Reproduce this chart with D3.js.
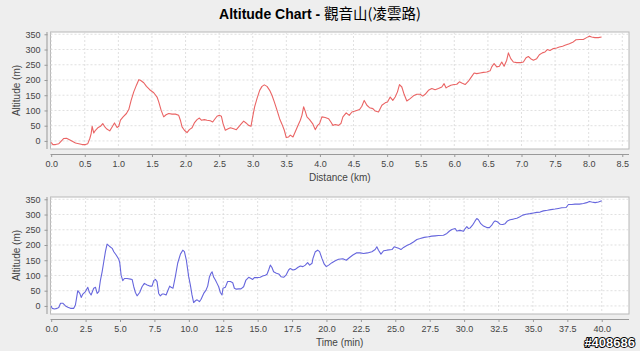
<!DOCTYPE html>
<html><head><meta charset="utf-8">
<script src="https://cdn.jsdelivr.net/npm/d3@7"></script>
<style>
html,body{margin:0;padding:0;background:#eeeeee;}
svg{display:block;}
text{font-family:"Liberation Sans",Arial,sans-serif;}
</style></head>
<body>
<script>
// ---- data ----
const titleText = "Altitude Chart - ";
const titleCjk = "觀音山(凌雲路)";
const xLabelDist = "Distance (km)";
const xLabelTime = "Time (min)";
const yLabel = "Altitude (m)";
const watermark = "#408686";

const distTicks = [0,0.5,1,1.5,2,2.5,3,3.5,4,4.5,5,5.5,6,6.5,7,7.5,8,8.5];
const timeTicks = [0,2.5,5,7.5,10,12.5,15,17.5,20,22.5,25,27.5,30,32.5,35,37.5,40];
const altTicks = [0,50,100,150,200,250,300,350];

const distKm = [0.000,0.025,0.064,0.114,0.139,0.188,0.228,0.287,0.362,0.411,0.461,0.511,0.545,0.575,0.595,0.610,0.634,0.659,0.694,0.734,0.768,0.793,0.823,0.872,0.907,0.942,0.981,1.006,1.031,1.071,1.120,1.155,1.190,1.229,1.269,1.304,1.328,1.378,1.418,1.467,1.527,1.576,1.601,1.636,1.675,1.710,1.750,1.799,1.849,1.898,1.923,1.948,1.983,2.022,2.057,2.097,2.131,2.171,2.206,2.235,2.280,2.320,2.369,2.404,2.434,2.468,2.503,2.533,2.558,2.592,2.627,2.667,2.716,2.756,2.791,2.825,2.865,2.900,2.939,2.974,2.999,3.028,3.063,3.103,3.138,3.172,3.212,3.252,3.286,3.321,3.361,3.400,3.435,3.470,3.499,3.534,3.559,3.599,3.633,3.668,3.708,3.732,3.757,3.782,3.807,3.846,3.896,3.930,3.965,3.995,4.029,4.079,4.128,4.163,4.193,4.228,4.277,4.312,4.342,4.391,4.436,4.476,4.525,4.590,4.624,4.659,4.699,4.738,4.788,4.823,4.872,4.922,4.971,5.006,5.046,5.085,5.120,5.154,5.184,5.219,5.253,5.293,5.343,5.392,5.442,5.491,5.531,5.566,5.615,5.665,5.714,5.764,5.814,5.848,5.878,5.913,5.948,5.997,6.037,6.076,6.111,6.161,6.210,6.260,6.295,6.334,6.384,6.433,6.483,6.533,6.557,6.592,6.632,6.671,6.706,6.741,6.780,6.805,6.840,6.879,6.929,6.988,7.028,7.068,7.102,7.137,7.177,7.226,7.266,7.310,7.350,7.385,7.424,7.474,7.523,7.563,7.612,7.647,7.712,7.771,7.811,7.870,7.920,7.969,8.009,8.044,8.093,8.143,8.192];
const altByDist = [-5,-12,-12,-9,-3,8,9,2,-7,-9,-12,-12,-9,8,24,48,26,35,43,48,57,48,40,33,46,59,44,48,68,79,90,103,133,161,183,201,199,191,179,168,158,144,128,101,79,86,90,88,88,84,68,46,35,27,37,43,59,70,75,68,70,68,66,62,71,81,84,81,57,35,39,43,40,37,46,55,65,59,51,48,79,112,139,166,179,184,179,166,150,128,101,73,55,35,11,13,19,13,30,48,68,84,112,97,79,70,55,37,51,57,79,77,73,62,51,54,51,57,79,92,84,95,98,103,114,133,117,109,106,98,95,117,125,128,144,133,144,161,185,177,153,131,139,148,153,153,147,153,166,172,168,172,177,188,174,179,183,185,186,194,190,185,196,212,223,221,223,225,226,230,243,254,243,245,259,245,265,289,270,259,257,257,259,273,277,270,265,270,283,289,292,300,297,303,305,308,311,314,319,325,332,333,333,339,344,341,339,339,341];

const timeMin = [0.00,0.07,0.24,0.43,0.55,0.68,0.84,1.04,1.21,1.40,1.64,1.76,1.84,1.93,2.08,2.18,2.30,2.49,2.66,2.78,2.90,3.09,3.22,3.34,3.46,3.58,3.70,3.82,3.94,4.06,4.23,4.43,4.55,4.72,4.91,4.98,5.08,5.20,5.32,5.51,5.76,5.88,6.00,6.12,6.24,6.43,6.60,6.77,6.97,7.16,7.33,7.45,7.57,7.69,7.81,7.93,8.06,8.18,8.35,8.47,8.61,8.71,8.85,9.02,9.19,9.39,9.56,9.68,9.82,9.99,10.11,10.23,10.35,10.48,10.60,10.77,10.89,11.08,11.25,11.37,11.49,11.61,11.69,11.81,11.93,12.05,12.17,12.29,12.41,12.48,12.65,12.82,13.02,13.19,13.31,13.45,13.62,13.79,13.98,14.15,14.35,14.52,14.64,14.76,14.95,15.19,15.36,15.56,15.68,15.80,15.92,16.04,16.16,16.36,16.53,16.70,16.89,17.06,17.25,17.37,17.57,17.74,17.91,18.10,18.29,18.46,18.63,18.78,18.95,19.02,19.19,19.36,19.50,19.67,19.84,19.99,20.16,20.40,20.64,20.88,21.19,21.44,21.68,21.92,22.17,22.46,22.69,22.98,23.30,23.54,23.66,23.78,23.96,24.15,24.39,24.76,24.92,25.07,25.24,25.41,25.60,25.84,26.08,26.32,26.57,26.81,27.10,27.41,27.66,27.90,28.14,28.50,28.75,28.94,29.11,29.35,29.47,29.71,29.96,30.08,30.20,30.32,30.44,30.61,30.80,30.92,31.04,31.21,31.41,31.65,31.84,32.01,32.13,32.25,32.42,32.62,32.81,32.98,33.15,33.34,33.58,33.83,34.02,34.26,34.50,34.79,35.04,35.28,35.52,35.76,36.05,36.30,36.61,36.85,37.09,37.41,37.58,37.82,38.06,38.38,38.67,38.91,39.10,39.27,39.52,39.76,40.00];
const altByTime = [0,-8,-10,-8,-5,9,9,0,-4,-8,-8,3,25,50,41,28,39,47,61,44,36,58,61,41,47,85,112,145,178,203,196,189,178,167,153,142,101,83,90,90,88,87,63,44,33,44,63,74,69,65,65,83,87,80,41,33,39,39,36,50,65,61,58,96,140,170,183,178,150,96,69,36,11,17,20,14,22,41,52,65,94,107,112,94,85,74,63,44,36,58,61,80,80,76,58,55,56,56,63,85,94,90,87,93,93,94,98,101,104,118,134,126,112,107,105,96,94,101,118,123,118,120,126,131,129,134,142,134,140,156,178,183,178,156,137,129,134,142,148,153,155,150,159,167,174,174,172,174,178,185,194,183,170,181,183,185,194,192,189,185,192,198,203,210,218,221,225,227,229,230,231,232,238,246,251,254,246,248,245,254,260,254,256,265,279,287,283,270,262,257,257,265,274,279,276,268,267,270,279,283,285,288,292,298,301,303,305,307,308,312,314,316,318,320,322,323,333,333,334,334,336,339,343,341,339,341,345];

// ---- drawing ----
const W = 640, H = 351;
const svg = d3.select("body").append("svg").attr("width", W).attr("height", H);
svg.append("rect").attr("width", W).attr("height", H).attr("fill", "#eeeeee");

const title = svg.append("text").attr("x", 320).attr("y", 19).attr("text-anchor", "middle")
  .attr("font-size", 14).attr("fill", "#000");
title.append("tspan").attr("font-weight", "bold").text(titleText);
title.append("tspan").attr("font-family", "'Noto Sans CJK TC','Noto Sans CJK SC',sans-serif")
  .attr("font-size", 14.5).text(titleCjk);

function panel(cfg) {
  const {top, bottom, xDomain, xTicks, xs, ys, color, xLabel, fmt} = cfg;
  const left = 50.5, right = 629;
  const x = d3.scaleLinear().domain(xDomain).range([left, right]);
  const y = d3.scaleLinear().domain([-26.5, 357.5]).range([bottom, top]);
  const g = svg.append("g");
  g.append("rect").attr("x", left).attr("y", top).attr("width", right - left).attr("height", bottom - top)
    .attr("fill", "#ffffff").attr("stroke", "#b8b8b8").attr("stroke-width", 1);
  // gridlines
  g.append("g").selectAll("line").data(xTicks).join("line")
    .attr("x1", d => x(d)).attr("x2", d => x(d)).attr("y1", top).attr("y2", bottom)
    .attr("stroke", "#d8d8d8").attr("stroke-width", 0.8).attr("stroke-dasharray", "2,2");
  g.append("g").selectAll("line").data(altTicks).join("line")
    .attr("x1", left).attr("x2", right).attr("y1", d => y(d)).attr("y2", d => y(d))
    .attr("stroke", "#d8d8d8").attr("stroke-width", 0.8).attr("stroke-dasharray", "2,2");
  // x axis (offset below plot)
  const xAxis = d3.axisBottom(x).tickValues(xTicks).tickFormat(fmt).tickSizeInner(3).tickSizeOuter(0).tickPadding(4);
  const xa = g.append("g").attr("transform", `translate(0,${bottom + 5})`).call(xAxis);
  xa.select(".domain").attr("stroke", "#999").attr("d", `M${left},0.5H${right}`);
  xa.selectAll(".tick line").attr("stroke", "#999");
  xa.selectAll("text").attr("font-size", 9).attr("fill", "#444").attr("font-family", "'Liberation Sans',Arial,sans-serif");
  // y axis
  const yAxis = d3.axisLeft(y).tickValues(altTicks).tickSizeInner(3).tickSizeOuter(0).tickPadding(4);
  const ya = g.append("g").attr("transform", `translate(${left - 3},0)`).call(yAxis);
  ya.select(".domain").attr("stroke", "#999").attr("d", `M-0.5,${top}V${bottom}`);
  ya.selectAll(".tick line").attr("stroke", "#999");
  ya.selectAll("text").attr("font-size", 9).attr("fill", "#444").attr("font-family", "'Liberation Sans',Arial,sans-serif");
  // labels
  g.append("text").attr("x", (left + right) / 2).attr("y", bottom + 32).attr("text-anchor", "middle")
    .attr("font-size", 10).attr("fill", "#444").text(xLabel);
  g.append("text").attr("transform", `translate(19.5,${(top + bottom) / 2}) rotate(-90)`).attr("text-anchor", "middle")
    .attr("font-size", 10).attr("fill", "#444").text(yLabel);
  // line
  const pts = xs.map((v, i) => [v, ys[i]]);
  g.append("path").datum(pts)
    .attr("d", d3.line().x(d => x(d[0])).y(d => y(d[1])))
    .attr("fill", "none").attr("stroke", color).attr("stroke-width", 1.1).attr("stroke-linejoin", "round");
}

panel({top: 32, bottom: 149, xDomain: [-0.01, 8.6], xTicks: distTicks, xs: distKm, ys: altByDist,
  color: "#ea6464", xLabel: xLabelDist, fmt: d3.format(".1f")});
panel({top: 197, bottom: 314, xDomain: [-0.05, 41.98], xTicks: timeTicks, xs: timeMin, ys: altByTime,
  color: "#6666dd", xLabel: xLabelTime, fmt: d3.format(".1f")});

svg.append("text").attr("x", 635).attr("y", 346.5).attr("text-anchor", "end")
  .attr("font-size", 13).attr("font-weight", "bold").attr("fill", "#ffffff")
  .attr("stroke", "#000").attr("stroke-width", 1.8).attr("paint-order", "stroke")
  .attr("stroke-linejoin", "round").text(watermark);
</script>
</body></html>
